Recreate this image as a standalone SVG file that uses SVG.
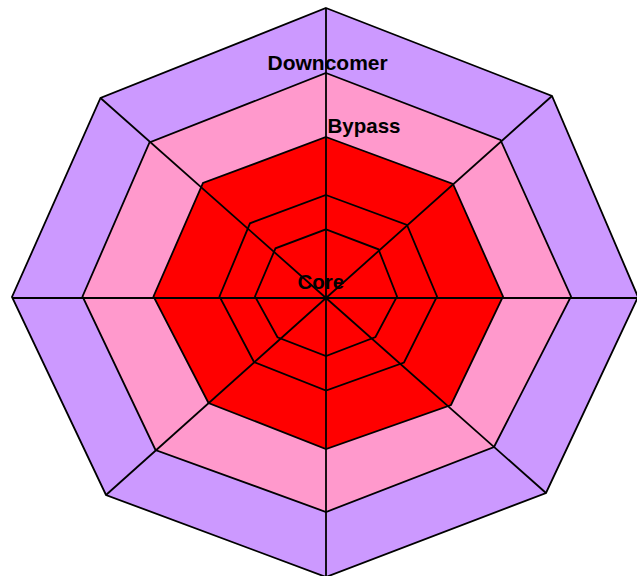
<svg xmlns="http://www.w3.org/2000/svg" width="637" height="576" viewBox="0 0 637 576">
<style>
.ring{stroke:#000;stroke-width:1.8;stroke-linejoin:miter}
.outer{fill:#cc99ff}
.bypass{fill:#ff99cc}
.core{fill:#ff0000}
.spoke{stroke:#000;stroke-width:1.8;fill:none}
.lbl{font-family:"Liberation Sans",Arial,sans-serif;font-weight:bold;font-size:20.5px;fill:#000}
</style>
<rect width="637" height="576" fill="#fff"/>
<g id="downcomer">
<polygon class="ring outer" points="326,8 552,96 638,297 546,493 326,577 106,495 12,297 100.5,98"/>
</g>
<g id="bypass">
<polygon class="ring bypass" points="326,73 500.5,140 571,296.5 494,447 326,512 155.5,450 82.5,296.5 149.5,142.5"/>
</g>
<g id="core">
<polygon class="ring core" points="326,137 453,184 503,296.5 451,405 326,449 208.5,403 153.5,296.5 203,183"/>
</g>
<g id="core-ring-2">
<polygon class="ring core" points="326,195 407,225 437,296.5 404,362.5 326,390.5 254,362 219.5,296.5 250,223.3"/>
</g>
<g id="core-ring-1">
<polygon class="ring core" points="326,229.3 378.5,249.3 397,296.5 375.5,337 326,356 277.5,337.3 255,296.5 275.5,248.3"/>
</g>
<g id="connectors">
<line class="spoke" x1="326" y1="8" x2="326" y2="577"/>
<line class="spoke" x1="12" y1="298" x2="638" y2="298"/>
<line class="spoke" x1="326" y1="298" x2="100.5" y2="98"/>
<line class="spoke" x1="326" y1="298" x2="552" y2="96"/>
<line class="spoke" x1="326" y1="298" x2="546" y2="493"/>
<line class="spoke" x1="326" y1="298" x2="106" y2="495"/>
</g>
<g id="labels">
<text class="lbl" x="267.5" y="69.5" style="font-size:21px">Downcomer</text>
<text class="lbl" x="327.5" y="132.5">Bypass</text>
<text class="lbl" x="297.5" y="288.5">Core</text>
</g>
</svg>
